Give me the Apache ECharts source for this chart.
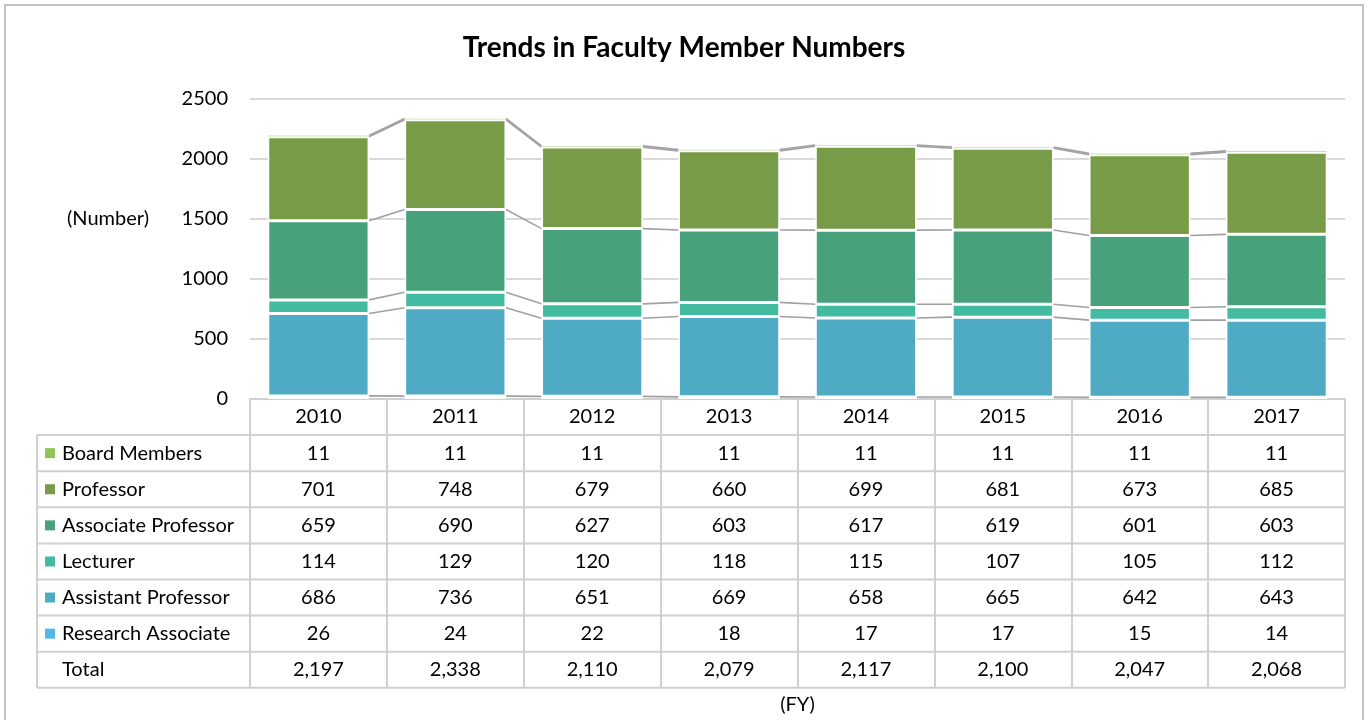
<!DOCTYPE html>
<html>
<head>
<meta charset="utf-8">
<script src="https://cdn.jsdelivr.net/npm/echarts@6/dist/echarts.min.js"></script>
<style>
  html, body { margin: 0; padding: 0; background: #fff; }
  #chart { width: 1368px; height: 720px; }
</style>
</head>
<body>
<div id="chart"></div>
<script>
  var years = ['2010', '2011', '2012', '2013', '2014', '2015', '2016', '2017'];
  var boardMembers = [11, 11, 11, 11, 11, 11, 11, 11];
  var professor = [701, 748, 679, 660, 699, 681, 673, 685];
  var associateProfessor = [659, 690, 627, 603, 617, 619, 601, 603];
  var lecturer = [114, 129, 120, 118, 115, 107, 105, 112];
  var assistantProfessor = [686, 736, 651, 669, 658, 665, 642, 643];
  var researchAssociate = [26, 24, 22, 18, 17, 17, 15, 14];
  var totals = ['2,197', '2,338', '2,110', '2,079', '2,117', '2,100', '2,047', '2,068'];
  var yTicks = [0, 2500, 500];

  var FONT = 'Lato, "Open Sans", sans-serif';
  var FS = 20;          // body font size
  var GAP = 0.26;       // gap between bars, share of the band
  var ROW_H = 36.1;     // table row height
  var TABLE_LEFT = 37;

  // bottom to top of the stack
  var stack = [
    {name: 'Research Associate', data: researchAssociate, color: '#52b8e8'},
    {name: 'Assistant Professor', data: assistantProfessor, color: '#4eabc3'},
    {name: 'Lecturer', data: lecturer, color: '#43bba0'},
    {name: 'Associate Professor', data: associateProfessor, color: '#47a27b'},
    {name: 'Professor', data: professor, color: '#789b48'},
    {name: 'Board Members', data: boardMembers, color: '#8fc556'}
  ];

  /*累计高度，用来画系列线*/
  function cumulative(level, i) {
    var s = 0;
    for (var k = 0; k <= level; k++) s += stack[k].data[i];
    return s;
  }

  var chart = echarts.init(document.getElementById('chart'));

  var series = stack.map(function (item, k) {
    return {
      name: item.name,
      type: 'bar',
      stack: 'total',
      barCategoryGap: (GAP * 100) + '%',
      data: item.data,
      itemStyle: {color: item.color, borderColor: '#fff', borderWidth: k === stack.length - 1 ? 0.5 : 1.5},
      z: 3
    };
  });

  series.push({
    name: 'seriesLines',
    type: 'custom',
    data: years.map(function (y, i) { return [i, 0]; }),
    encode: {x: 0, y: 1},
    z: 2,
    silent: true,
    renderItem: function (params, api) {
      var i = api.value(0);
      if (i >= years.length - 1) return;
      var band = api.size([1, 0])[0];
      var half = band * (1 - GAP) / 2;
      var children = [];
      for (var k = 0; k < stack.length; k++) {
        var a = api.coord([i, cumulative(k, i)]);
        var b = api.coord([i + 1, cumulative(k, i + 1)]);
        children.push({
          type: 'line',
          shape: {x1: a[0] + half, y1: a[1], x2: b[0] - half, y2: b[1]},
          style: {stroke: '#a0a0a5', lineWidth: 1.6}
        });
      }
      return {type: 'group', children: children};
    }
  });

  chart.setOption({
    animation: false,
    title: {
      text: 'Trends in Faculty Member Numbers',
      left: 'center',
      top: 29,
      textStyle: {fontSize: 28, fontWeight: 'bold', color: '#000', fontFamily: FONT}
    },
    grid: {left: 250, right: 23, top: 99, height: 300},
    xAxis: {
      type: 'category',
      data: years,
      axisLine: {lineStyle: {color: '#d0d0d0', width: 2}},
      axisTick: {show: true, length: ROW_H * 8, lineStyle: {color: '#d0d0d0', width: 2}},
      axisLabel: {fontSize: FS, color: '#000', fontFamily: FONT, margin: 8}
    },
    yAxis: {
      type: 'value',
      min: yTicks[0],
      max: yTicks[1],
      interval: yTicks[2],
      axisLine: {show: false},
      axisTick: {show: false},
      splitLine: {lineStyle: {color: '#d9d9d9', width: 2}},
      axisLabel: {fontSize: FS, color: '#000', fontFamily: FONT, margin: 22,
        formatter: function (v) { return String(v); }}
    },
    series: series
  });

  /*画数据表*/
  function drawTable() {
    var cx = years.map(function (y, i) { return chart.convertToPixel({xAxisIndex: 0}, i); });
    var band = cx[1] - cx[0];
    var right = cx[cx.length - 1] + band / 2;
    var top = chart.convertToPixel({yAxisIndex: 0}, 0);
    var rows = stack.slice().reverse().map(function (s) {
      return {name: s.name, color: s.color, values: s.data};
    });
    rows.push({name: 'Total', color: null, values: totals});

    var els = [];
    // outer frame
    els.push({type: 'rect', shape: {x: 5, y: 5, width: 1358, height: 730},
      style: {fill: 'none', stroke: '#c4c4c4', lineWidth: 2}, silent: true});

    for (var r = 1; r <= rows.length + 1; r++) {
      var y = top + r * ROW_H;
      els.push({type: 'line', shape: {x1: TABLE_LEFT, y1: y, x2: right, y2: y},
        style: {stroke: '#d0d0d0', lineWidth: 2}, silent: true});
    }
    els.push({type: 'line', shape: {x1: TABLE_LEFT, y1: top + ROW_H, x2: TABLE_LEFT, y2: top + ROW_H * 8},
      style: {stroke: '#d0d0d0', lineWidth: 2}, silent: true});

    rows.forEach(function (row, r) {
      var yc = top + ROW_H * (r + 1.5);
      if (row.color) {
        els.push({type: 'rect', shape: {x: 45, y: yc - 5, width: 10, height: 10},
          style: {fill: row.color}, silent: true});
      }
      els.push({type: 'text', x: 62, y: yc,
        style: {text: row.name, fontSize: FS, fontFamily: FONT, fill: '#000',
          align: 'left', verticalAlign: 'middle'}, silent: true});
      row.values.forEach(function (v, i) {
        els.push({type: 'text', x: cx[i], y: yc,
          style: {text: String(v), fontSize: FS, fontFamily: FONT, fill: '#000',
            align: 'center', verticalAlign: 'middle'}, silent: true});
      });
    });

    els.push({type: 'text', x: 108, y: 219,
      style: {text: '(Number)', fontSize: FS, fontFamily: FONT, fill: '#000',
        align: 'center', verticalAlign: 'middle'}, silent: true});
    els.push({type: 'text', x: (cx[0] - band / 2 + right) / 2, y: 705,
      style: {text: '(FY)', fontSize: FS, fontFamily: FONT, fill: '#000',
        align: 'center', verticalAlign: 'middle'}, silent: true});

    chart.setOption({graphic: {elements: els}});
  }

  drawTable();
</script>
</body>
</html>
